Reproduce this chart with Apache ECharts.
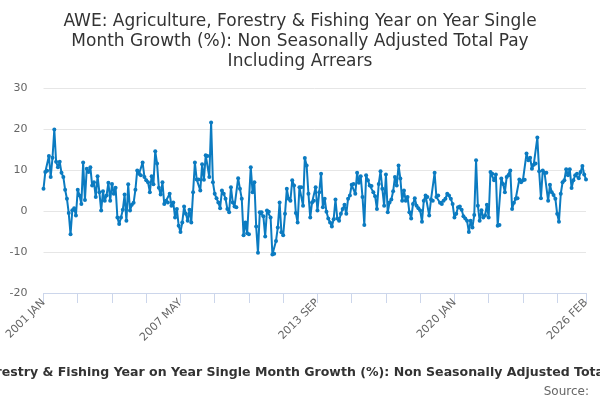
<!DOCTYPE html>
<html>
<head>
<meta charset="utf-8">
<script src="https://cdn.jsdelivr.net/npm/echarts@6/dist/echarts.min.js"></script>
<style>
  html, body { margin: 0; padding: 0; background: #fff; }
  #main { width: 600px; height: 400px; }
</style>
</head>
<body>
<div id="main"></div>
<script>
// monthly, 2001 JAN .. 2026 FEB
const startYear = 2001
const monthNames = ['JAN','FEB','MAR','APR','MAY','JUN','JUL','AUG','SEP','OCT','NOV','DEC']

const seriesName = 'AWE: Agriculture, Forestry & Fishing Year on Year Single Month Growth (%): Non Seasonally Adjusted Total Pay Including Arrears'

const growth2001to2005 = [5.4, 9.5, 9.8, 13.4, 8.3, 13, 19.9, 12, 10.7, 12, 9.3, 8.3, 5.2, 3, -0.5, -5.7, 0.2, 0.7, -1.1, 5.2, 3.8, 1.7, 11.8, 2.7, 10.3, 9.5, 10.7, 6.2, 7, 3.4, 8.5, 4.6, 0.1, 4.8, 2.5, 3.8, 6.9, 2.5, 6.6, 4.2, 5.7, -1.6, -3.2, -1.6, 0.3, 4, -2.4, 6.5, 0.1, 1.5]
const growth2005to2009 = [2, 5.2, 9.9, 9.1, 8.7, 11.8, 8.3, 7.5, 7, 4.6, 8.5, 6.5, 14.6, 11.6, 5.7, 4, 7, 1.7, 2.5, 2.1, 4.2, 1.3, 2.1, -1.6, 0.5, -3.6, -5.1, -2.8, 1.1, -0.7, -2.4, 0.3, -2.8, 4.6, 11.8, 7.7, 7.7, 5, 11.4, 7.6, 13.6, 13.4, 8.3, 21.6, 7, 4.2, 3.1, 2.1, 0.7, 5]
const growth2009to2013 = [4.2, 3, 0.5, -0.3, 5.8, 2.1, 1.1, 0.9, 8, 5.4, 3, -5.9, -2.8, -5.4, -5.7, 10.7, 4.6, 7, -3.8, -10.2, -0.3, -0.3, -1.3, -6.2, 0.1, -0.2, -1.6, -10.6, -10.4, -7.3, -4, 2.1, -5.2, -5.9, -0.7, 5.4, 3, 2.5, 7.5, 6.2, -0.5, -2.8, 5.8, 5.8, 1.3, 12.9, 11.1, 4.2, -1.6, 2.1]
const growth2013to2017 = [2.5, 5.8, 0.1, 4.6, 9.1, 0.9, 3, -0.2, -1.8, -2.8, -3.8, -2, 2.8, -1.8, -2.4, -0.7, 0.5, 1.5, -0.7, 3, 3.8, 6.4, 6.6, 4.2, 9.3, 6.9, 8.5, 3.4, -3.4, 8.7, 7.5, 6.2, 6.1, 4.6, 3.6, 0.5, 6.6, 9.7, 5.4, 1.3, 8.9, -0.3, 2.1, 2.8, 4.8, 8.3, 6.2, 11.1, 7.9, 2.5]
const growth2017to2021 = [5, 2.5, 3.4, -0.3, -1.8, 1.7, 3.1, 1.3, 0.7, 0.1, -2.6, 2.5, 3.8, 3.4, -1.1, 2.8, 2.5, 9.3, 3.4, 3.8, 2, 1.7, 2.5, 3, 4.2, 3.8, 3, 1.7, -1.6, -0.7, 0.9, 1.1, 0.3, -1.3, -1.8, -2.4, -5.1, -2.4, -4, -1, 12.4, 1.3, -2.4, 0.2, -1.6, -1.1, 1.5, -1.6, 9.5, 9.1]
const growth2021to2026 = [7.5, 8.9, -3.6, -3.4, 7.9, 6.6, 4.6, 8.3, 8.7, 9.9, 0.5, 2, 3, 3.1, 7.7, 7, 7.5, 7.6, 14, 12.4, 13, 10.3, 11.3, 11.6, 17.9, 9.7, 3.1, 9.9, 9.3, 9.3, 2.5, 6.4, 4.6, 3.9, 3, -0.7, -2.6, 4.2, 7, 7.5, 10.2, 8.7, 10.2, 5.6, 7.5, 8.7, 9.1, 8, 9.5, 11, 8.9, 7.7]

const values = [].concat(growth2001to2005, growth2005to2009, growth2009to2013,
  growth2013to2017, growth2017to2021, growth2021to2026)

const categories = values.map((v, i) => (startYear + Math.floor(i / 12)) + ' ' + monthNames[i % 12])
const lastIdx = categories.length - 1

const yTicks = [-20, -10, 0, 10, 20, 30]

const myChart = echarts.init(document.getElementById('main'))
const option = {
  animation: false,
  textStyle: { fontFamily: 'DejaVu Sans' },
  title: {
    text: 'AWE: Agriculture, Forestry & Fishing Year on Year Single\nMonth Growth (%): Non Seasonally Adjusted Total Pay\nIncluding Arrears',
    left: 'center',
    top: 7,
    textStyle: { fontSize: 17, fontWeight: 'normal', color: '#333', lineHeight: 20, fontFamily: 'DejaVu Sans' }
  },
  // the series name sits centred under the chart and runs off both edges
  graphic: [{
    type: 'text',
    x: 307,
    y: 373,
    style: {
      text: seriesName,
      align: 'center',
      verticalAlign: 'middle',
      fill: '#333',
      fontSize: 12.55,
      fontWeight: 'bold',
      fontFamily: 'DejaVu Sans'
    }
  }, {
    type: 'text',
    right: 11,
    bottom: 2,
    style: { text: 'Source:', fill: '#666', fontSize: 12, fontFamily: 'DejaVu Sans' }
  }],
  grid: { left: 43.5, right: 14, top: 88, bottom: 107 },
  xAxis: {
    type: 'category',
    data: categories,
    boundaryGap: false,
    axisLine: { onZero: false, lineStyle: { color: '#ccd6eb' } },
    axisTick: {
      length: 10,
      lineStyle: { color: '#ccd6eb' },
      interval: (idx) => idx % 19 === 0 || idx === lastIdx
    },
    axisLabel: {
      rotate: 45,
      color: '#666',
      fontSize: 11,
      margin: 8,
      interval: (idx) => idx % 76 === 0 || idx === lastIdx
    }
  },
  yAxis: {
    type: 'value',
    min: yTicks[0],
    max: yTicks[yTicks.length - 1],
    interval: 10,
    axisLabel: { color: '#666', fontSize: 11, margin: 16 },
    splitLine: { lineStyle: { color: '#e6e6e6' } }
  },
  series: [{
    name: seriesName,
    type: 'line',
    data: values,
    symbol: 'circle',
    symbolSize: 4,
    showAllSymbol: true,
    itemStyle: { color: '#0b7bc1' },
    lineStyle: { width: 2, color: '#0b7bc1' }
  }]
}
myChart.setOption(option)
</script>
</body>
</html>
